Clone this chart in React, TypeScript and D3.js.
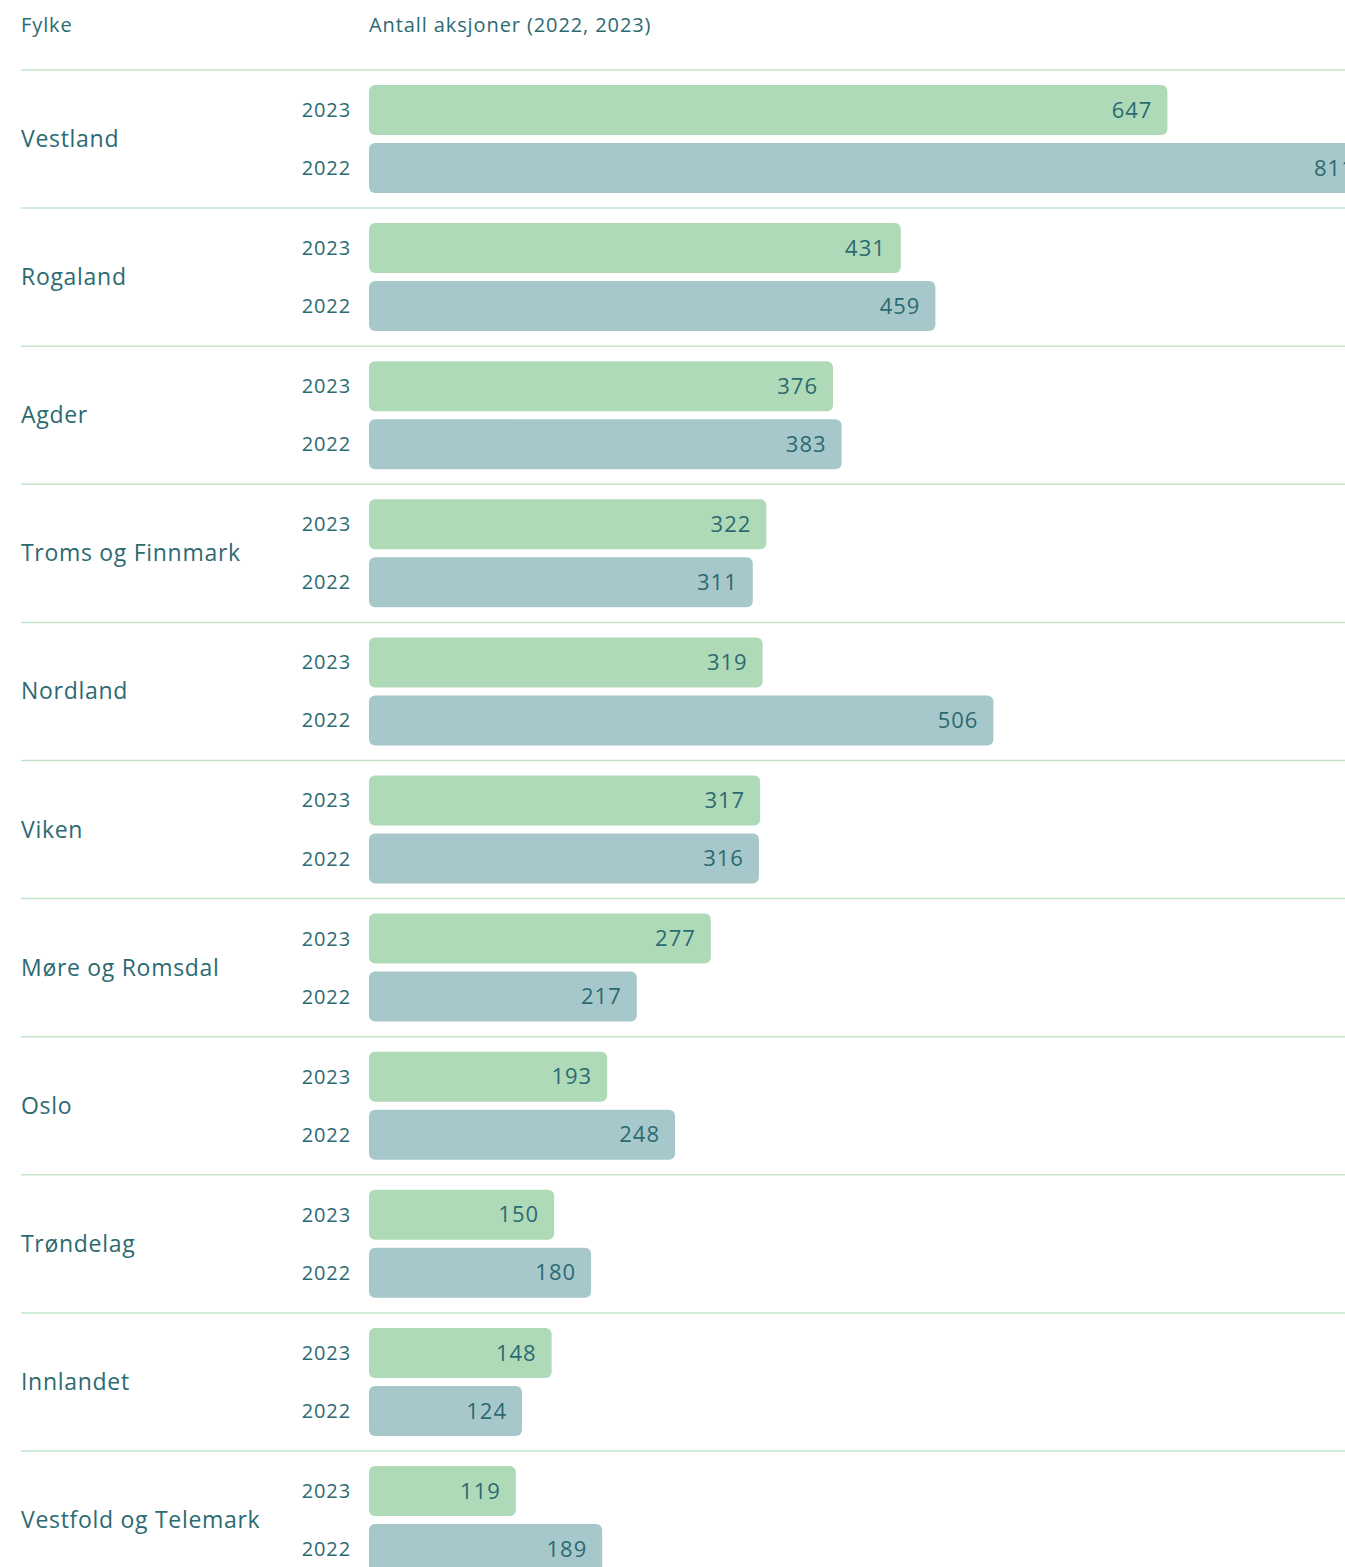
import React, { useEffect, useRef } from 'react';
import * as d3 from 'd3';

const counties = [
  'Vestland',
  'Rogaland',
  'Agder',
  'Troms og Finnmark',
  'Nordland',
  'Viken',
  'Møre og Romsdal',
  'Oslo',
  'Trøndelag',
  'Innlandet',
  'Vestfold og Telemark',
];
const values2023 = [647, 431, 376, 322, 319, 317, 277, 193, 150, 148, 119];
const values2022 = [811, 459, 383, 311, 506, 316, 217, 248, 180, 124, 189];
const years = ['2023', '2022'];

const W = 1345;
const H = 1567;
const textColor = '#2c6a72';
const font = '"Open Sans", sans-serif';

const App: React.FC = () => {
  const svgRef = useRef<SVGSVGElement>(null);

  useEffect(() => {
    if (!svgRef.current) return;
    const svg = d3.select(svgRef.current);
    svg.selectAll('*').remove();

    const rowH = 138.1;
    const top = 70;

    const y = d3
      .scaleBand<string>()
      .domain(counties)
      .range([top, top + rowH * counties.length]);

    const yInner = d3
      .scaleBand<string>()
      .domain(years)
      .range([15, 123])
      .paddingInner(0.138);

    const x = d3.scaleLinear().domain([0, 811]).range([369, 369 + 811 * 1.234]);

    const colors: Record<string, string> = { '2023': '#afdab7', '2022': '#a7c8ca' };

    // header
    svg
      .append('text')
      .attr('x', 21)
      .attr('y', 25)
      .attr('dy', '0.35em')
      .attr('fill', textColor)
      .style('font-family', font)
      .style('font-size', '20px')
      .style('letter-spacing', '0.9px')
      .text('Fylke');
    svg
      .append('text')
      .attr('x', 369)
      .attr('y', 25)
      .attr('dy', '0.35em')
      .attr('fill', textColor)
      .style('font-family', font)
      .style('font-size', '20px')
      .style('letter-spacing', '0.9px')
      .text('Antall aksjoner (2022, 2023)');

    const rows = svg
      .selectAll('g.row')
      .data(counties)
      .enter()
      .append('g')
      .attr('class', 'row')
      .attr('transform', d => `translate(0,${y(d)})`);

    rows
      .append('line')
      .attr('x1', 21)
      .attr('x2', W)
      .attr('y1', 0)
      .attr('y2', 0)
      .attr('stroke', '#c3e4c9')
      .attr('stroke-width', 1.5);

    rows
      .append('text')
      .attr('x', 21)
      .attr('y', 69)
      .attr('dy', '0.35em')
      .attr('fill', textColor)
      .style('font-family', font)
      .style('font-size', '23px')
      .style('letter-spacing', '0.7px')
      .text(d => d);

    rows.each(function (c, i) {
      const g = d3.select(this);
      const vals: Record<string, number> = { '2023': values2023[i], '2022': values2022[i] };
      years.forEach(yr => {
        const yy = yInner(yr)!;
        const bw = yInner.bandwidth();
        g.append('text')
          .attr('x', 351)
          .attr('y', yy + bw / 2)
          .attr('dy', '0.35em')
          .attr('text-anchor', 'end')
          .attr('fill', textColor)
          .style('font-family', font)
          .style('font-size', '20px')
          .style('letter-spacing', '0.9px')
          .text(yr);
        g.append('rect')
          .attr('x', x(0))
          .attr('y', yy)
          .attr('width', x(vals[yr]) - x(0))
          .attr('height', bw)
          .attr('rx', 6)
          .attr('fill', colors[yr]);
        g.append('text')
          .attr('x', x(vals[yr]) - 15)
          .attr('y', yy + bw / 2)
          .attr('dy', '0.35em')
          .attr('text-anchor', 'end')
          .attr('fill', textColor)
          .style('font-family', font)
          .style('font-size', '22px')
          .style('letter-spacing', '1px')
          .text(vals[yr]);
      });
    });
  }, []);

  return (
    <div style={{ position: 'absolute', left: 0, top: 0, width: W, height: H, overflow: 'hidden', background: '#fff' }}>
      <svg ref={svgRef} width={W} height={H} />
    </div>
  );
};

export default App;
